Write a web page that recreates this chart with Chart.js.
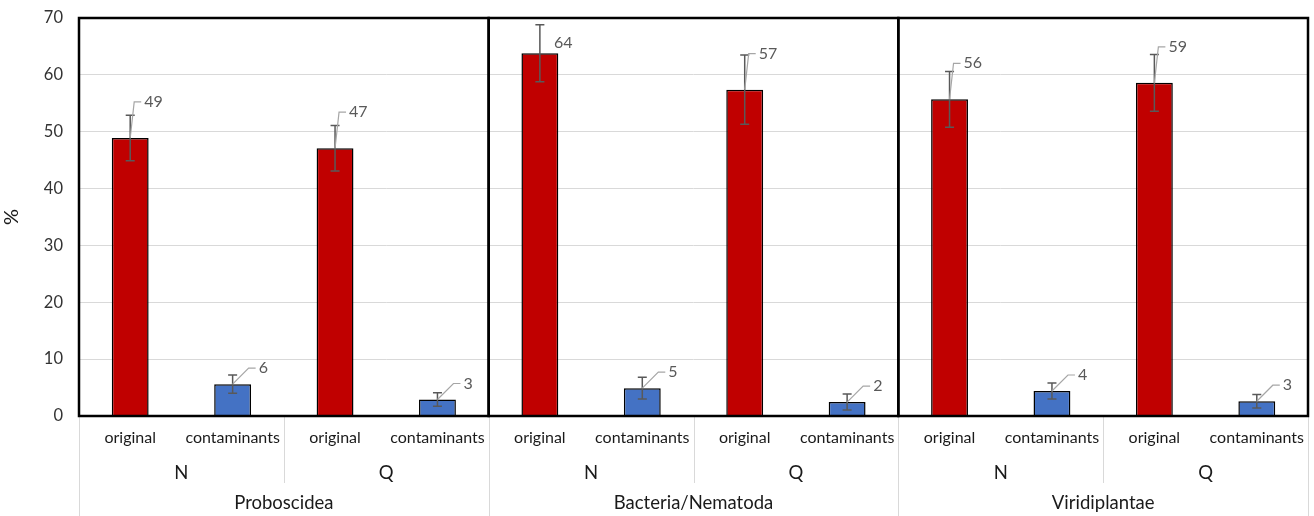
<!DOCTYPE html>
<html>
<head>
<meta charset="utf-8">
<script src="https://cdn.jsdelivr.net/npm/chart.js@4/dist/chart.umd.min.js"></script>
<style>
  html,body{margin:0;padding:0;background:#fff;}
  #wrap{width:1314px;height:516px;position:relative;}
</style>
</head>
<body>
<div id="wrap"><canvas id="c" width="1314" height="516"></canvas></div>
<script>
// ---- data ----
const groupNames = ['Proboscidea', 'Bacteria/Nematoda', 'Viridiplantae'];
const subGroupNames = ['N', 'Q'];
const kindNames = ['original', 'contaminants'];
const categories = ['original','contaminants','original','contaminants',
                    'original','contaminants','original','contaminants',
                    'original','contaminants','original','contaminants'];
const values = [48.9, 5.6, 47.1, 2.9, 63.8, 4.9, 57.4, 2.45, 55.7, 4.4, 58.6, 2.6];
const errors = [4.0, 1.6, 4.0, 1.2, 5.0, 1.9, 6.1, 1.4, 4.9, 1.4, 5.0, 1.2];
const yTicks = [0, 10, 20, 30, 40, 50, 60, 70];

// ---- styles ----
const RED = '#c00000', BLUE = '#4472c4';
const FONT = 'Lato, "Noto Sans", sans-serif';
const barColors = categories.map(c => c === 'original' ? RED : BLUE);

const errorBarPlugin = {
  id: 'errorBars',
  afterDatasetsDraw(chart) {
    const ctx = chart.ctx, meta = chart.getDatasetMeta(0), y = chart.scales.y;
    ctx.save();
    ctx.strokeStyle = '#595959';
    ctx.lineWidth = 1.5;
    meta.data.forEach((bar, i) => {
      const v = values[i], e = errors[i];
      const yt = y.getPixelForValue(v + e), yb = y.getPixelForValue(v - e);
      const x = bar.x;
      ctx.beginPath();
      ctx.moveTo(x, yt); ctx.lineTo(x, yb);
      ctx.moveTo(x - 4.5, yt); ctx.lineTo(x + 4.5, yt);
      ctx.moveTo(x - 4.5, yb); ctx.lineTo(x + 4.5, yb);
      ctx.stroke();
    });
    ctx.restore();
  }
};

const dataLabelPlugin = {
  id: 'dataLabels',
  afterDatasetsDraw(chart) {
    const ctx = chart.ctx, meta = chart.getDatasetMeta(0), area = chart.chartArea;
    ctx.save();
    ctx.font = '16px ' + FONT;
    ctx.textBaseline = 'middle';
    ctx.textAlign = 'left';
    meta.data.forEach((bar, i) => {
      const isOrig = categories[i] === 'original';
      const lx = bar.x + (isOrig ? 14 : 26);
      let ly = bar.y - (isOrig ? 36 : 16);
      if (ly < area.top + 25) ly = area.top + 25;
      const txt = String(Math.round(values[i]));
      const dist = Math.hypot(lx - bar.x, ly - bar.y);
      if (dist > 22) {
        ctx.strokeStyle = '#a6a6a6';
        ctx.lineWidth = 1.2;
        ctx.beginPath();
        ctx.moveTo(bar.x, bar.y);
        ctx.lineTo(lx - 10, ly);
        ctx.lineTo(lx - 3, ly);
        ctx.stroke();
      }
      ctx.fillStyle = '#595959';
      ctx.fillText(txt, lx, ly);
    });
    ctx.restore();
  }
};

const framePlugin = {
  id: 'frames',
  afterDraw(chart) {
    const ctx = chart.ctx, area = chart.chartArea, x = chart.scales.x;
    const n = categories.length;
    const cw = (area.right - area.left) / n;
    const H = chart.height;
    ctx.save();
    // separators in multi-level axis
    ctx.strokeStyle = '#d9d9d9';
    ctx.lineWidth = 1;
    for (let g = 0; g <= groupNames.length; g++) {
      const px = Math.round(area.left + g * 4 * cw) + 0.5;
      ctx.beginPath(); ctx.moveTo(px, area.bottom); ctx.lineTo(px, H); ctx.stroke();
    }
    for (let g = 0; g < groupNames.length; g++) {
      const px = Math.round(area.left + (g * 4 + 2) * cw) + 0.5;
      ctx.beginPath(); ctx.moveTo(px, area.bottom); ctx.lineTo(px, area.bottom + 67); ctx.stroke();
    }
    // axis labels
    ctx.fillStyle = '#1a1a1a';
    ctx.textAlign = 'center';
    ctx.textBaseline = 'middle';
    ctx.font = '16px ' + FONT;
    categories.forEach((c, i) => {
      ctx.fillText(c, x.getPixelForValue(i), area.bottom + 22);
    });
    ctx.font = '18.5px ' + FONT;
    for (let g = 0; g < groupNames.length; g++) {
      subGroupNames.forEach((s, k) => {
        const cx = area.left + (g * 4 + k * 2 + 1) * cw;
        ctx.fillText(s, cx, area.bottom + 57);
      });
      ctx.fillText(groupNames[g], area.left + (g * 4 + 2) * cw, area.bottom + 87);
    }
    // panel frames
    ctx.strokeStyle = '#000';
    ctx.lineWidth = 2.5;
    for (let g = 0; g < groupNames.length; g++) {
      const x0 = area.left + g * 4 * cw, x1 = area.left + (g + 1) * 4 * cw;
      ctx.strokeRect(x0, area.top, x1 - x0, area.bottom - area.top);
    }
    ctx.restore();
  }
};

new Chart(document.getElementById('c'), {
  type: 'bar',
  data: {
    labels: categories,
    datasets: [{
      data: values,
      backgroundColor: barColors,
      borderColor: '#000',
      borderWidth: 1.5,
      categoryPercentage: 1,
      barPercentage: 0.36
    }]
  },
  options: {
    responsive: false,
    animation: false,
    devicePixelRatio: 1,
    layout: { padding: { top: 18, right: 6, bottom: 100, left: 0 } },
    plugins: { legend: { display: false }, tooltip: { enabled: false } },
    scales: {
      x: { display: false },
      y: {
        min: 0, max: 70,
        afterBuildTicks(scale) { scale.ticks = yTicks.map(v => ({ value: v })); },
        afterFit(scale) { scale.width = 79; scale.paddingTop = 0; scale.paddingBottom = 0; },
        grid: { color: '#d9d9d9', lineWidth: 1, drawTicks: false },
        border: { display: false },
        ticks: { color: '#333333', font: { size: 16.5, family: FONT }, padding: 16 },
        title: { display: true, text: '%', color: '#1a1a1a', font: { size: 20, family: FONT }, padding: 0 }
      }
    }
  },
  plugins: [errorBarPlugin, dataLabelPlugin, framePlugin]
});
</script>
</body>
</html>
